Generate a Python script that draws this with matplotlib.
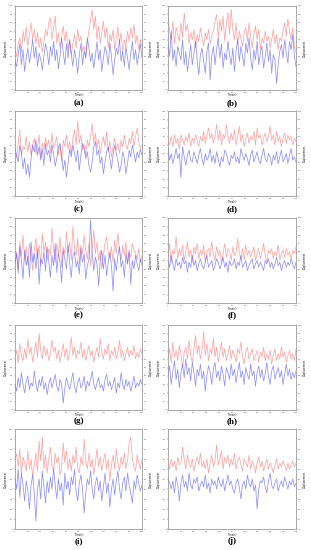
import numpy as np
import matplotlib
matplotlib.use("Agg")
import matplotlib.pyplot as plt

# 每个子图：红线（左轴）与蓝线（右轴）
a_red = [48,40,55,62,45,70,58,75,52,66,80,60,72,55,68,50,62,45,58,72,64,80,86,60,74,88,55,68,50,62,76,58,70,48,60,42,55,66,50,72,58,64,46,52,40,58,70,84,95,72,88,60,76,55,68,82,62,74,50,66,58,72,48,62,75,56,68,45,60,52,70,58,74,62,78,55,66,48,60,52]
a_blue = [35,28,42,55,30,48,22,38,50,32,45,60,38,52,28,44,36,24,40,55,46,30,52,40,58,35,48,25,40,62,45,30,55,38,60,42,28,48,36,20,42,55,30,46,38,62,50,34,44,26,40,58,36,48,22,38,52,44,30,56,40,18,36,50,42,60,34,46,28,52,38,24,44,58,36,48,30,42,55,38]
b_red = [88,70,60,82,55,75,65,58,80,62,92,70,78,55,68,60,72,50,66,58,74,62,52,68,60,72,55,64,70,82,90,62,84,70,88,58,78,92,66,96,72,60,80,55,70,62,52,68,74,58,80,64,50,66,76,60,72,48,62,56,70,58,64,50,60,72,55,66,48,62,58,70,80,64,85,70,60,74,52,45]
b_blue = [55,40,70,35,48,28,52,44,36,60,30,46,22,38,54,30,44,58,36,18,42,50,34,20,46,56,12,40,52,30,48,62,38,55,26,44,36,58,42,30,50,22,46,60,34,52,40,28,56,44,62,38,24,48,36,58,30,44,52,26,40,56,34,48,20,42,36,8,30,46,54,38,60,44,32,58,48,66,40,28]
c_red = [50,45,62,78,48,58,55,70,52,64,48,60,68,50,58,72,45,62,54,68,58,66,50,74,56,62,70,48,60,40,66,58,72,55,64,50,68,78,60,88,62,72,54,60,48,66,58,70,85,62,74,56,66,50,62,70,58,76,52,64,46,58,68,54,62,50,66,58,72,60,55,68,62,76,58,70,80,64,56,60]
c_blue = [55,48,40,60,50,32,45,25,38,22,44,60,52,66,48,58,42,55,36,62,48,54,40,60,50,35,44,58,62,48,30,42,22,38,55,46,60,50,40,54,30,48,62,56,44,52,36,28,40,58,64,48,54,38,46,26,40,52,58,44,32,48,60,50,42,28,36,52,44,26,38,54,46,60,50,40,52,45,55,48]
d_red = [65,60,70,58,72,62,68,55,72,66,60,70,64,74,58,68,62,72,66,58,70,64,76,62,72,80,68,74,62,70,84,66,78,60,72,68,84,70,62,74,66,78,60,70,82,64,72,58,68,74,62,70,66,76,60,80,68,72,60,68,74,64,70,82,66,72,60,76,64,70,58,68,74,62,72,66,70,60,68,64]
d_blue = [55,42,50,38,46,56,44,50,22,58,46,36,48,54,42,40,52,46,38,48,56,44,36,50,42,46,56,40,48,38,52,44,34,46,40,54,50,42,36,48,44,52,40,46,38,56,48,42,50,44,36,48,54,40,46,52,42,38,48,56,44,40,50,46,36,48,42,52,38,46,54,40,44,50,38,48,56,42,46,40]
e_red = [48,60,40,72,55,80,50,66,45,70,58,38,62,76,52,68,44,82,60,72,50,64,56,88,62,48,70,55,78,42,66,58,84,60,72,50,90,64,56,76,46,68,58,80,62,52,70,44,64,86,58,72,50,62,40,56,70,78,60,52,66,48,74,58,82,62,50,68,56,72,46,60,54,70,62,58,52,64,48,56]
e_blue = [45,58,35,66,50,28,62,44,55,30,72,48,58,40,64,22,52,46,60,38,66,50,30,56,44,70,36,58,48,24,62,52,40,68,46,30,56,60,42,50,34,64,48,58,28,44,52,98,60,38,54,46,20,50,62,40,56,32,48,60,44,14,52,38,56,66,42,50,30,58,46,62,22,50,40,56,46,38,52,44]
f_red = [55,70,48,62,58,78,52,64,56,68,50,60,72,54,62,48,66,58,70,52,62,56,68,48,60,64,54,72,58,50,66,56,62,48,58,70,54,64,60,50,66,56,60,76,58,52,64,50,68,56,62,54,60,66,50,58,64,52,60,70,56,48,62,58,64,52,60,56,68,50,58,62,54,64,56,60,52,62,58,66]
f_blue = [50,42,56,46,38,52,44,48,40,54,46,50,36,48,42,56,44,50,38,46,52,44,40,48,56,42,46,50,38,44,52,48,40,46,54,42,48,36,50,44,46,52,40,48,44,56,42,46,50,38,44,48,52,40,46,50,42,48,44,38,50,46,52,42,48,40,46,54,44,48,38,46,50,42,48,44,52,46,40,48]
g_red = [62,70,55,78,64,58,72,60,84,66,74,56,68,80,62,90,70,60,76,64,72,58,66,82,68,74,60,70,56,66,78,62,72,58,68,86,64,74,60,70,66,80,62,72,58,68,76,64,70,56,66,74,62,84,68,60,72,66,78,58,70,64,74,60,68,82,62,70,58,66,74,62,70,64,76,60,68,62,72,66]
g_blue = [30,22,38,26,44,30,20,34,40,24,32,28,46,30,22,36,28,40,24,32,18,30,38,26,34,42,28,22,36,30,8,26,38,30,24,34,44,28,20,32,38,26,30,40,22,34,28,36,46,30,24,32,38,26,30,22,36,42,28,34,24,30,38,20,32,26,44,30,24,36,28,34,22,30,40,26,32,28,36,30]
h_red = [60,72,55,80,62,70,58,76,66,50,68,74,60,82,64,56,72,88,66,76,60,70,92,64,78,58,72,66,84,62,74,56,68,80,62,72,58,66,76,60,70,64,56,72,66,80,62,54,68,74,60,66,72,58,64,70,56,68,62,74,58,66,60,70,54,64,72,58,66,60,74,62,68,56,64,70,60,66,58,72]
h_blue = [40,52,30,46,58,36,48,26,44,54,38,60,42,50,34,56,44,28,48,40,54,36,46,22,40,52,44,30,48,56,38,46,34,52,42,28,50,44,36,54,40,48,32,44,56,38,46,30,50,42,36,54,40,46,28,44,52,38,48,34,42,56,40,30,46,52,36,44,50,38,46,30,42,54,40,48,36,44,38,46]
i_red = [70,75,62,80,55,72,66,58,78,60,70,52,64,76,58,88,68,92,60,74,56,70,82,64,58,76,66,72,54,62,86,66,78,60,70,58,74,66,82,60,56,72,64,90,68,60,76,62,70,54,66,80,62,72,58,68,76,60,70,48,64,74,60,80,66,58,72,64,76,60,68,86,92,70,62,58,74,66,60,70]
i_blue = [50,40,60,32,56,44,28,48,38,20,44,54,36,8,40,50,30,58,42,26,48,36,52,40,60,44,30,50,38,46,24,56,40,48,34,52,44,60,38,28,46,54,40,16,36,50,44,58,40,30,46,52,38,48,28,42,56,36,46,22,40,50,34,48,58,40,30,46,52,38,56,44,36,26,48,40,54,46,38,44]
j_red = [64,60,70,62,68,58,72,64,66,82,70,60,74,66,62,70,58,66,72,64,76,62,68,60,70,56,66,74,62,68,84,64,70,78,60,72,66,74,62,70,64,76,60,68,72,64,58,70,66,62,74,60,68,64,56,66,72,62,68,58,64,70,60,66,62,56,64,70,60,66,62,68,64,58,66,60,64,68,62,66]
j_blue = [50,46,40,48,36,52,44,28,46,54,42,48,38,56,44,40,50,46,52,38,44,48,42,54,40,46,36,50,44,48,40,52,46,42,50,38,46,54,44,48,40,36,46,50,42,30,44,48,40,54,46,42,50,38,44,20,40,48,46,52,42,36,48,56,44,40,46,50,38,44,48,42,52,46,40,48,44,50,42,46]

labels = ["(a)", "(b)", "(c)", "(d)", "(e)", "(f)", "(g)", "(h)", "(i)", "(j)"]
reds = [a_red, b_red, c_red, d_red, e_red, f_red, g_red, h_red, i_red, j_red]
blues = [a_blue, b_blue, c_blue, d_blue, e_blue, f_blue, g_blue, h_blue, i_blue, j_blue]

W, H = 311, 550
fig = plt.figure(figsize=(W / 100, H / 100), dpi=100)

cols = [(15, 142), (168, 296)]
rows = [(6, 90, 103), (111, 196, 209), (218, 303, 315), (325, 410, 421), (429, 529, 541)]

for k in range(10):
    r, c = divmod(k, 2)
    x0, x1 = cols[c]
    top, bot, lab = rows[r]
    ax = fig.add_axes([x0 / W, 1 - bot / H, (x1 - x0) / W, (bot - top) / H])
    ax2 = ax.twinx()
    t1 = np.linspace(0, 100, len(reds[k]))
    t2 = np.linspace(0, 100, len(blues[k]))
    ax.plot(t1, reds[k], color="#ff6868", lw=0.55, alpha=0.6)
    ax2.plot(t2, blues[k], color="#4848ff", lw=0.55, alpha=0.6)
    for a in (ax, ax2):
        a.set_xlim(0, 100)
        a.set_ylim(0, 100)
        a.set_xticks(np.arange(0, 101, 10))
        a.set_yticks(np.arange(0, 101, 10))
        a.tick_params(labelsize=1.6, length=1, width=0.3, pad=0.5, colors="#555555")
        for s in a.spines.values():
            s.set_color("#999999")
            s.set_linewidth(0.4)
    ax.set_xlabel("Time(s)", fontsize=1.8, labelpad=0.3)
    ax.set_ylabel("Displacement", fontsize=1.8, labelpad=0.4)
    ax2.set_ylabel("Displacement", fontsize=1.8, labelpad=0.4)
    fig.text((x0 + x1) / 2 / W, 1 - lab / H, labels[k], ha="center", va="center",
             fontsize=6.5, fontweight="bold", family="Liberation Serif")

fig.savefig("out.png", dpi=100)
